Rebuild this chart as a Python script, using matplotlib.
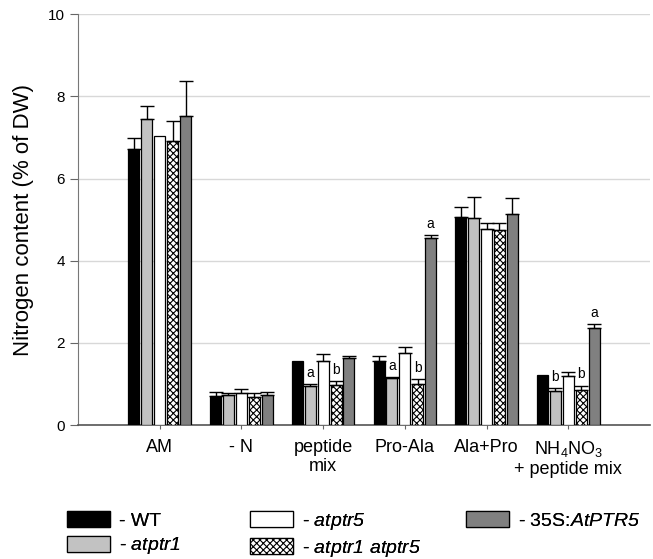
import matplotlib.pyplot as plt
import numpy as np

plt.rcParams['font.family'] = ['Liberation Sans', 'DejaVu Sans']
plt.rcParams['mathtext.fontset'] = 'custom'
plt.rcParams['mathtext.rm'] = 'Liberation Sans'
plt.rcParams['mathtext.it'] = 'Liberation Sans:italic'
plt.rcParams['mathtext.sf'] = 'Liberation Sans:italic'
plt.rcParams['hatch.linewidth'] = 0.8

categories = ['AM', '- N', 'peptide\nmix', 'Pro-Ala', 'Ala+Pro',
              'NH$_4$NO$_3$\n+ peptide mix']
series = ['- WT', '- $\\mathsf{atptr1}$', '- $\\mathsf{atptr5}$',
          '- $\\mathsf{atptr1\\ atptr5}$', '- 35S:$\\mathsf{AtPTR5}$']

wt = [6.72, 0.71, 1.56, 1.56, 5.07, 1.22]
atptr1 = [7.44, 0.72, 0.96, 1.14, 5.03, 0.83]
atptr5 = [7.03, 0.79, 1.56, 1.76, 4.77, 1.19]
double = [6.92, 0.67, 0.97, 1.00, 4.74, 0.85]
oe = [7.53, 0.72, 1.64, 4.56, 5.13, 2.35]

wt_err = [0.28, 0.10, 0, 0.12, 0.23, 0]
atptr1_err = [0.32, 0.07, 0.04, 0.03, 0.52, 0.08]
atptr5_err = [0, 0.09, 0.16, 0.14, 0.14, 0.10]
double_err = [0.48, 0.10, 0.11, 0.12, 0.19, 0.11]
oe_err = [0.84, 0.08, 0.05, 0.06, 0.39, 0.11]

atptr1_sig = ['', '', 'a', 'a', '', 'b']
double_sig = ['', '', 'b', 'b', '', 'b']
oe_sig = ['', '', '', 'a', '', 'a']

values = [wt, atptr1, atptr5, double, oe]
errors = [wt_err, atptr1_err, atptr5_err, double_err, oe_err]
sigs = [None, atptr1_sig, None, double_sig, oe_sig]
colors = ['black', '#c2c2c2', 'white', 'white', '#808080']
hatches = [None, None, None, 'xxxxx', None]

fig = plt.figure(figsize=(6.53, 5.59), dpi=100)
ax = fig.add_axes([0.1194, 0.2397, 0.9954 - 0.1194, 0.9744 - 0.2397])

x = np.arange(len(categories))
pitch = 0.158
width = 0.135
offsets = (np.arange(5) - 2) * pitch

bars = []
for i in range(5):
    pos = x + offsets[i]
    b = ax.bar(pos, values[i], width, color=colors[i], edgecolor='black',
               linewidth=0.9, hatch=hatches[i], label=series[i], zorder=3)
    bars.append(b)
    v = np.array(values[i])
    e = np.array(errors[i])
    m = e > 0
    ax.errorbar(pos[m], v[m], yerr=[np.zeros(m.sum()), e[m]], fmt='none',
                ecolor='black', elinewidth=1, capsize=5, capthick=1, zorder=4)
    if sigs[i] is not None:
        for j, s in enumerate(sigs[i]):
            if s:
                ax.text(pos[j], v[j] + e[j] + 0.1, s, ha='center', va='bottom',
                        fontsize=10, zorder=5)

ax.set_xlim(-1, 6)
ax.set_ylim(0, 10)
ax.set_yticks([0, 2, 4, 6, 8, 10])
ax.set_xticks(x)
ax.set_xticklabels(categories, fontsize=13, linespacing=1.2)
ax.tick_params(axis='y', labelsize=11, direction='out', length=6, color='#666666')
ax.tick_params(axis='x', direction='out', length=3, color='#666666', pad=7)
ax.set_ylabel('Nitrogen content (% of DW)', fontsize=16, labelpad=10)

ax.grid(axis='y', color='#d8d8d8', linewidth=1, zorder=0)
ax.set_axisbelow(True)
for s in ['top', 'right']:
    ax.spines[s].set_visible(False)
ax.spines['left'].set_color('#777777')
ax.spines['bottom'].set_color('#555555')
ax.spines['bottom'].set_linewidth(1.2)

# legend in three columns placed like the original
cols = [([0, 1], 67), ([2, 3], 250), ([4], 466)]
for idx, px in cols:
    leg = fig.legend([bars[k] for k in idx], [series[k] for k in idx],
                     loc='upper left', bbox_to_anchor=(px / 653, 1 - 511 / 559),
                     frameon=False, fontsize=14, handlelength=2.2,
                     handleheight=0.88, handletextpad=0.45, labelspacing=0.3,
                     borderpad=0, borderaxespad=0)
    fig.add_artist(leg)

plt.savefig('out.png', dpi=100)
